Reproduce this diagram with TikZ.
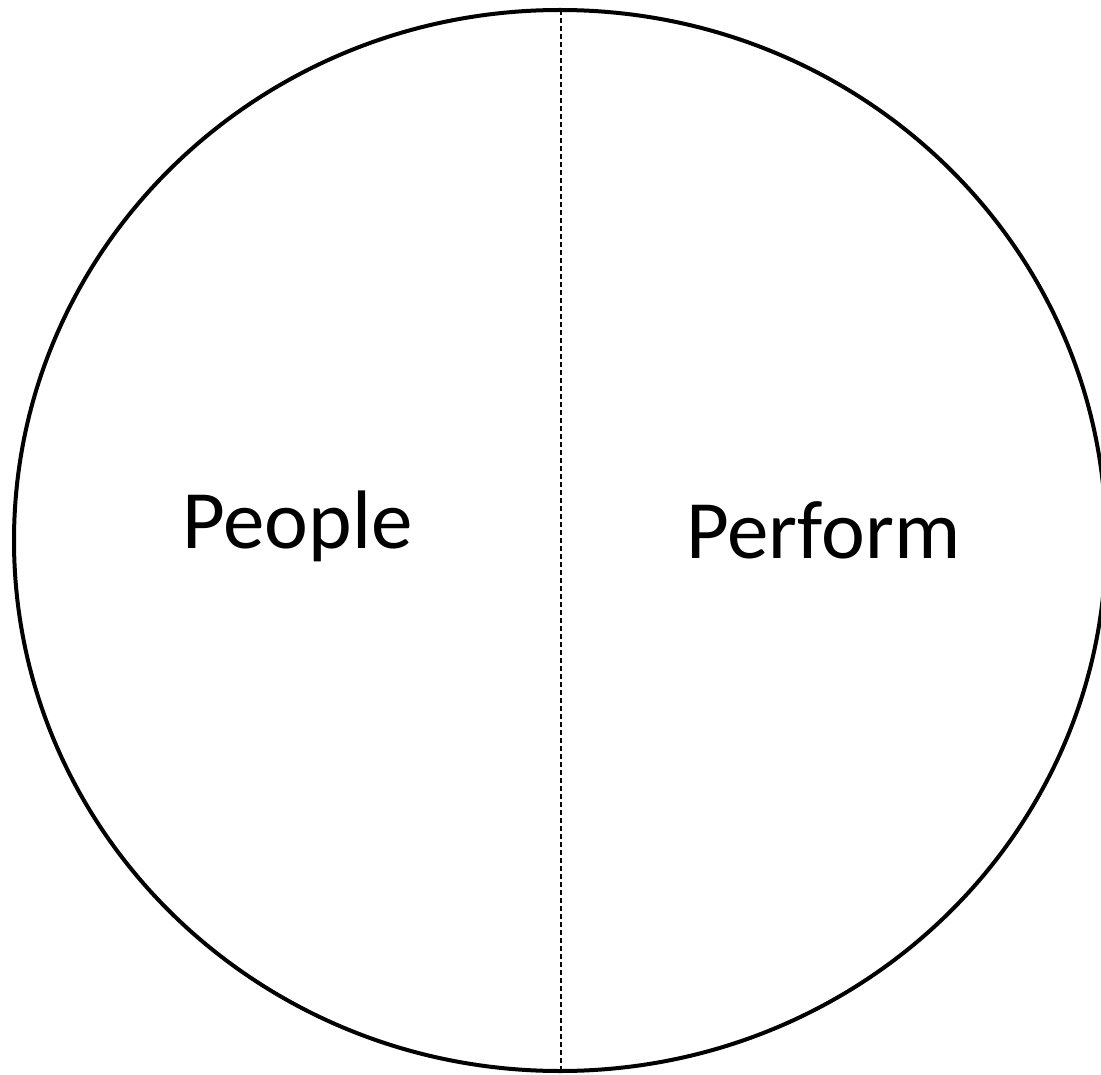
\documentclass[tikz,border=0pt]{standalone}
\usepackage{fontspec}
\setmainfont{Carlito}
\usetikzlibrary{shapes.geometric}
\begin{document}
\begin{tikzpicture}[x=1pt,y=-1pt,
  outline/.style={draw=black,line width=4pt},
  divider/.style={draw=black,line width=1.3pt,dash pattern=on 5pt off 3pt},
  label/.style={font=\fontsize{83}{99}\selectfont,inner sep=0pt,anchor=base west}]
\useasboundingbox (0,0) rectangle (1101,1075);
\clip (0,0) rectangle (1101,1075);
\node[ellipse,minimum width=1092pt,minimum height=1061pt,outline,inner sep=0pt] (circ) at (560,540.5) {};
\coordinate (top) at (561,10);
\coordinate (bot) at (561,1071);
\draw[divider] (top) -- (bot);
\node[label] (people) at (182,548) {People};
\node[label] (perform) at (686,558) {Perform};
\end{tikzpicture}
\end{document}
